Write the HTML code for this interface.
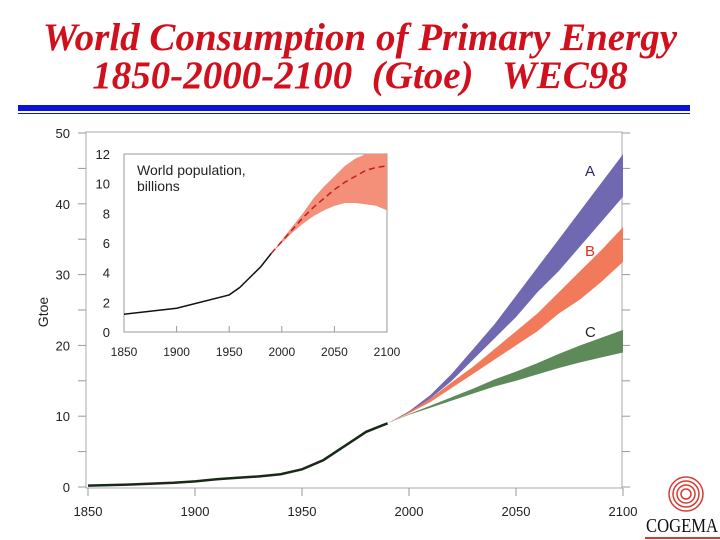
<!DOCTYPE html>
<html><head><meta charset="utf-8"><style>
body{margin:0;width:720px;height:540px;background:#fff;overflow:hidden;font-family:"Liberation Sans",sans-serif}
.t{position:absolute;left:0;width:720px;text-align:center;color:#d0101c;font-family:"Liberation Serif",serif;font-style:italic;font-weight:bold;font-size:39px;line-height:40px;white-space:nowrap}
</style></head><body>
<div class="t" style="top:18px">World Consumption of Primary Energy</div>
<div class="t" style="top:56px">1850-2000-2100&nbsp; (Gtoe)&nbsp;&nbsp; WEC98</div>
<div style="position:absolute;left:18px;top:105px;width:672px;height:6px;background:#0a14d8"></div>
<div style="position:absolute;left:18px;top:113px;width:672px;height:1px;background:#0a14d8"></div>
<svg id="c" width="720" height="540" style="position:absolute;left:0;top:0"></svg>
<script>
const histYears=[1850,1870,1890,1900,1910,1920,1930,1940,1950,1960,1970,1980,1990];
const histVals=[0.2,0.35,0.6,0.8,1.1,1.3,1.5,1.8,2.5,3.8,5.8,7.8,9.0];
const projYears=[1990,2000,2010,2020,2030,2040,2050,2060,2070,2080,2090,2100];
const aLow=[9,10.5,12.5,15,18,21,24,27.5,30.5,34,37.5,41];
const aHigh=[9,10.7,13,16,19.5,23,27,31,35,39,43,47];
const bLow=[9,10.4,12,14,16,18,20,22,24.5,26.5,29,31.8];
const bHigh=[9,10.6,12.5,14.8,17,19.5,22,24.5,27.5,30.5,33.5,36.7];
const cLow=[9,10.2,11.2,12.2,13.2,14.2,15,15.9,16.8,17.6,18.3,19];
const cHigh=[9,10.3,11.5,12.7,13.9,15.2,16.3,17.5,18.8,20,21.1,22.2];
const popYears=[1850,1900,1950,1960,1970,1980,1990];
const popVals=[1.2,1.6,2.5,3.0,3.7,4.4,5.3];
const popPYears=[1990,2000,2010,2020,2030,2040,2050,2060,2070,2080,2090,2100];
const popLow=[5.3,6.0,6.7,7.3,7.8,8.2,8.5,8.7,8.7,8.6,8.5,8.2];
const popMid=[5.3,6.1,6.9,7.7,8.4,9.0,9.6,10.1,10.5,10.9,11.1,11.2];
const popHigh=[5.3,6.2,7.1,8.0,9.0,9.8,10.5,11.2,11.7,12,12,12];
const xTicks=[1850,1900,1950,2000,2050,2100];
const yTicks=[0,10,20,30,40,50];
const popTicks=[0,2,4,6,8,10,12];

const NS="http://www.w3.org/2000/svg",svg=document.getElementById('c');
function mk(t,a,p){const e=document.createElementNS(NS,t);for(const k in a)e.setAttribute(k,a[k]);(p||svg).appendChild(e);return e;}
const X=v=>88+(v-1850)*(623-88)/250, Y=v=>487-v*(487-133)/50;
const IX=v=>124+(v-1850)*(387-124)/250, IY=v=>332-v*(332-154)/12;
let f=mk('rect',{x:86,y:132,width:536,height:356,fill:'none',stroke:'#aaa','stroke-width':1});

for(let v=0;v<=50;v+=5){
 let l=mk('line',{x1:78,x2:86,y1:Y(v),y2:Y(v),stroke:'#999'});
 let r=mk('line',{x1:622,x2:630,y1:Y(v),y2:Y(v),stroke:'#999'});
}
yTicks.forEach(v=>{let t=mk('text',{x:70,y:Y(v)+5,'text-anchor':'end','font-size':13,fill:'#222'});t.textContent=v;});
xTicks.forEach(v=>{let l=mk('line',{x1:X(v),x2:X(v),y1:488,y2:496,stroke:'#999'});
 let t=mk('text',{x:X(v),y:516,'text-anchor':'middle','font-size':13,fill:'#222'});t.textContent=v;});
let yt=mk('text',{x:48,y:312,'text-anchor':'middle','font-size':14,fill:'#222',transform:'rotate(-90 48 312)'});yt.textContent='Gtoe';
function band(xs,lo,hi,xf,yf,fill,name){let d='M'+xs.map((x,i)=>xf(x)+','+yf(hi[i])).join('L');for(let i=xs.length-1;i>=0;i--)d+='L'+xf(xs[i])+','+yf(lo[i]);d+='Z';
 let p=mk('path',{d:d,fill:fill});}
band(projYears,aLow,aHigh,X,Y,'#7068b0','band-a');
band(projYears,bLow,bHigh,X,Y,'#f07a5a','band-b');
band(projYears,cLow,cHigh,X,Y,'#5e8a5a','band-c');
let h=mk('polyline',{points:histYears.map((x,i)=>X(x)+','+Y(histVals[i])).join(' '),fill:'none',stroke:'#1a2a1a','stroke-width':2.5});
[['A',585,176,'#2a2a60'],['B',585,256,'#d83020'],['C',585,337,'#1a2a1a']].forEach(a=>{let t=mk('text',{x:a[1],y:a[2],'font-size':15,fill:a[3]});t.textContent=a[0];});
let ir=mk('rect',{x:124,y:154,width:263,height:178,fill:'#fff',stroke:'#999'});
popTicks.forEach(v=>{let t=mk('text',{x:110,y:IY(v)+5,'text-anchor':'end','font-size':13,fill:'#222'});t.textContent=v;});
xTicks.forEach(v=>{let t=mk('text',{x:IX(v),y:356,'text-anchor':'middle','font-size':12,fill:'#222'});t.textContent=v;
 let l=mk('line',{x1:IX(v),x2:IX(v),y1:326,y2:332,stroke:'#999'});});
band(popPYears,popLow,popHigh,IX,IY,'#f4907a','inset-pop-band');
let pm=mk('polyline',{points:popPYears.map((x,i)=>IX(x)+','+IY(popMid[i])).join(' '),fill:'none',stroke:'#c02018','stroke-width':1.5,'stroke-dasharray':'6,4'});
let ph=mk('polyline',{points:popYears.map((x,i)=>IX(x)+','+IY(popVals[i])).join(' '),fill:'none',stroke:'#111','stroke-width':1.5});
let it1=mk('text',{x:137,y:175,'font-size':14,fill:'#222'});it1.textContent='World population,';
let it2=mk('text',{x:137,y:191,'font-size':14,fill:'#222'});it2.textContent='billions';
let lg=mk('g',{});
for(let r=5;r<=17;r+=4)mk('circle',{cx:686,cy:494,r:r,fill:'none',stroke:'#d83a30','stroke-width':1.5},lg);
let lt=mk('text',{x:646,y:532,'font-family':'Liberation Serif,serif','font-size':20,fill:'#111',textLength:72,lengthAdjust:'spacingAndGlyphs'},lg);lt.textContent='COGEMA';
mk('rect',{x:645,y:537,width:75,height:2,fill:'#d83a30'},lg);
</script>
</body></html>
